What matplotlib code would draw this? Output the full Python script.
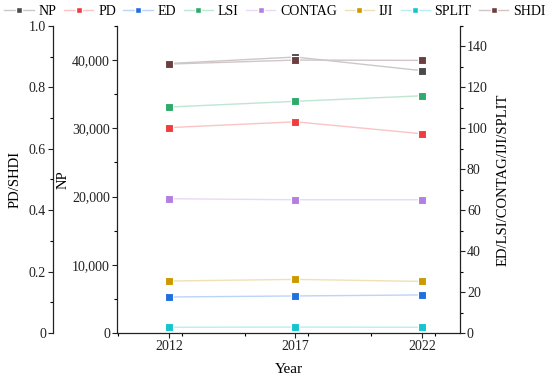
import matplotlib
matplotlib.use("Agg")
import matplotlib.pyplot as plt
from matplotlib.lines import Line2D
from matplotlib.ticker import MultipleLocator, FuncFormatter
from matplotlib.colors import to_rgb

plt.rcParams['font.family'] = ['Liberation Serif', 'DejaVu Serif']

years = [2012, 2017, 2022]

# NP axis
NP = [39500, 40450, 38450]
# PD/SHDI axis
PD = [0.669, 0.688, 0.649]
SHDI = [0.876, 0.889, 0.888]
# ED/LSI/CONTAG/IJI/SPLIT axis
ED = [17.6, 18.1, 18.6]
LSI = [110.4, 113.2, 115.9]
CONTAG = [65.6, 65.1, 65.1]
IJI = [25.4, 26.2, 25.2]
SPLIT = [2.8, 2.9, 2.8]

colors = {
    'NP': '#4a4a4a', 'PD': '#f03c3c', 'ED': '#1f6fe0', 'LSI': '#2eaa6a',
    'CONTAG': '#b47ee0', 'IJI': '#cc9900', 'SPLIT': '#12c5cf', 'SHDI': '#6b3f3f',
}
order = ['NP', 'PD', 'ED', 'LSI', 'CONTAG', 'IJI', 'SPLIT', 'SHDI']


def light(c, f=0.7):
    r, g, b = to_rgb(c)
    return (r + (1 - r) * f, g + (1 - g) * f, b + (1 - b) * f)


fig, ax = plt.subplots(figsize=(5.5, 3.8), dpi=100)
fig.subplots_adjust(left=117/550, right=460/550, bottom=1-333/380, top=1-26/380)
ax_l = ax.twinx()
ax_r = ax.twinx()

# left-most axis PD/SHDI (64 px left of the NP spine)
ax_l.spines['left'].set_position(('outward', 64 * 72 / 100))
ax_l.spines['left'].set_visible(True)
ax_l.yaxis.set_ticks_position('left')
ax_l.yaxis.set_label_position('left')
ax_l.spines['right'].set_visible(False)

for a in (ax, ax_l, ax_r):
    a.spines['top'].set_visible(False)
ax.spines['right'].set_visible(False)
ax_r.spines['left'].set_visible(False)
ax_l.spines['bottom'].set_visible(False)
ax_r.spines['bottom'].set_visible(False)


def draw(a, name, vals):
    c = colors[name]
    a.plot(years, vals, color=light(c), lw=1.0, zorder=2)
    a.plot(years, vals, 's', color=c, mec='white', mew=0.8, ms=6, zorder=3)


draw(ax, 'NP', NP)
draw(ax_l, 'PD', PD)
draw(ax_l, 'SHDI', SHDI)
draw(ax_r, 'ED', ED)
draw(ax_r, 'LSI', LSI)
draw(ax_r, 'CONTAG', CONTAG)
draw(ax_r, 'IJI', IJI)
draw(ax_r, 'SPLIT', SPLIT)

ax.set_xlim(2009.95, 2023.5)
ax.set_xticks(years)
ax.xaxis.set_minor_locator(MultipleLocator(2.5))
ax.set_xlabel('Year', fontsize=11, labelpad=7)

ax.set_ylim(0, 45000)
ax.yaxis.set_major_locator(MultipleLocator(10000))
ax.yaxis.set_minor_locator(MultipleLocator(5000))
ax.yaxis.set_major_formatter(FuncFormatter(lambda v, p: f'{int(v):,}'))
ax.set_ylabel('NP', fontsize=10.5, labelpad=2)

ax_l.set_ylim(0, 1.0)
ax_l.yaxis.set_major_locator(MultipleLocator(0.2))
ax_l.yaxis.set_minor_locator(MultipleLocator(0.1))
ax_l.yaxis.set_major_formatter(FuncFormatter(lambda v, p: '0' if v == 0 else f'{v:.1f}'))
ax_l.set_ylabel('PD/SHDI', fontsize=10.5, labelpad=5)

ax_r.set_ylim(0, 150)
ax_r.yaxis.set_major_locator(MultipleLocator(20))
ax_r.yaxis.set_minor_locator(MultipleLocator(10))
ax_r.set_ylabel('ED/LSI/CONTAG/IJI/SPLIT', fontsize=10.5, labelpad=6)

for a in (ax, ax_l, ax_r):
    a.tick_params(which='major', length=3.5, width=0.8, labelsize=10, colors='#222222', pad=1.5)
    a.tick_params(which='minor', length=2, width=0.8)
    for s in a.spines.values():
        s.set_linewidth(0.9)
        s.set_color('#222222')

handles = [Line2D([], [], color=light(colors[n]), marker='s', mfc=colors[n],
                  mec='white', ms=5, lw=1.0) for n in order]
fig.legend(handles, order, loc='upper center', bbox_to_anchor=(0.5, 1.01), ncol=8,
           frameon=False, fontsize=10, handlelength=2.1, handletextpad=0.35,
           columnspacing=0.55, borderaxespad=0.2)

fig.savefig('out.png', dpi=100)
